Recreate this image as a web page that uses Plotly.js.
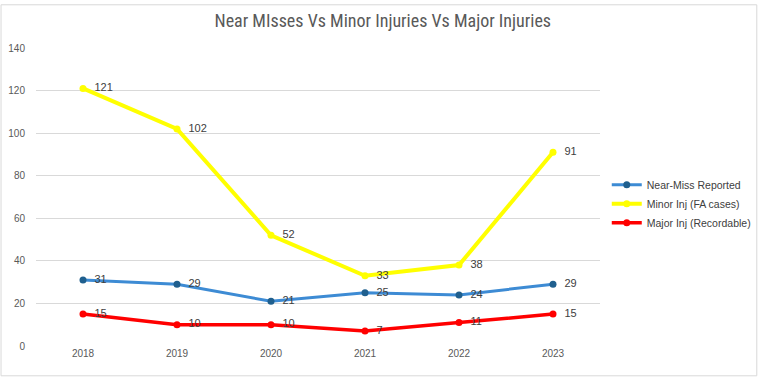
<!DOCTYPE html>
<html><head><meta charset="utf-8">
<script src="https://cdn.plot.ly/plotly-3.0.1.min.js"></script>
<style>html,body{margin:0;padding:0;background:#fff}#c{width:758px;height:377px}</style>
</head><body><div id="c"></div>
<script>
const years = ['2018','2019','2020','2021','2022','2023'];
const nearMiss = [31, 29, 21, 25, 24, 29];
const minorInj = [121, 102, 52, 33, 38, 91];
const majorInj = [15, 10, 10, 7, 11, 15];
const yTicks = [0, 20, 40, 60, 80, 100, 120, 140];

function tr(name, y, lineColor, markerColor, w) {
  return {
    type: 'scatter', mode: 'lines+markers+text', name: name,
    x: years, y: y, text: y.map(v => '  ' + v), textposition: 'middle right',
    textfont: {family: 'Liberation Sans, Arial', size: 11, color: '#404040'},
    line: {color: lineColor, width: w},
    marker: {color: markerColor, size: 7},
    cliponaxis: false
  };
}
const data = [
  tr('Near-Miss Reported', nearMiss, '#3d8bd4', '#1f5f8e', 3),
  tr('Minor Inj (FA cases)', minorInj, '#ffff00', '#ffff00', 4),
  tr('Major Inj (Recordable)', majorInj, '#ff0000', '#ff0000', 3.5)
];
const layout = {
  width: 758, height: 377,
  margin: {l: 36, r: 158, t: 48, b: 31, autoexpand: false},
  paper_bgcolor: '#fff', plot_bgcolor: '#fff',
  title: {text: 'Near MIsses Vs Minor Injuries Vs Major Injuries', x: 0.505, xanchor: 'center', y: 0.945, yanchor: 'middle',
    font: {family: 'Liberation Sans Narrow, Roboto Condensed, Arial', size: 18, color: '#595959'}},
  xaxis: {type: 'category', range: [-0.5, 5.5], showgrid: false, zeroline: false, showline: false,
    ticks: '', tickfont: {family: 'Liberation Sans, Arial', size: 10, color: '#595959'}},
  yaxis: {range: [0, 140], tickvals: yTicks, showgrid: true, gridcolor: '#d9d9d9', gridwidth: 1, zeroline: false,
    ticks: '', ticklabelstandoff: 10, tickfont: {family: 'Liberation Sans, Arial', size: 10, color: '#595959'}},
  legend: {x: 1.012, xanchor: 'left', y: 0.477, yanchor: 'middle', tracegroupgap: 0,
    font: {family: 'Liberation Sans Narrow, Arial', size: 10.5, color: '#404040'}, itemwidth: 30},
  showlegend: true,
  shapes: [{type: 'rect', xref: 'paper', yref: 'paper', x0: -0.062, x1: 1.278, y0: -0.1, y1: 1.145,
    line: {color: '#d9d9d9', width: 1}}]
};
Plotly.newPlot('c', data, layout, {displayModeBar: false, staticPlot: true});
</script></body></html>
